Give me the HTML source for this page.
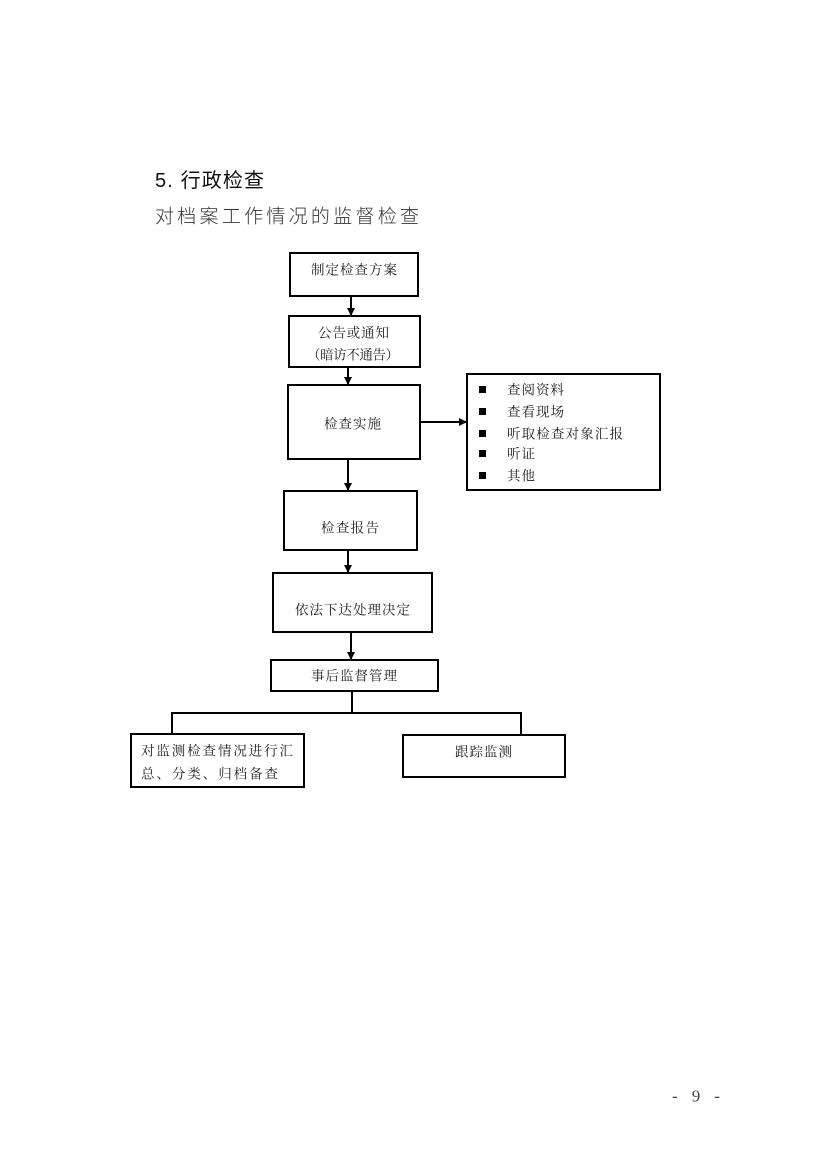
<!DOCTYPE html>
<html>
<head>
<meta charset="utf-8">
<style>
html,body{margin:0;padding:0;background:#fff;}
body{width:827px;height:1169px;overflow:hidden;}
svg{display:block;}
.s{font-family:"Liberation Serif","Noto Serif CJK SC",serif;font-size:13.5px;fill:#1a1a1a;}
</style>
</head>
<body>
<svg width="827" height="1169" viewBox="0 0 827 1169" xmlns="http://www.w3.org/2000/svg">
<defs>
<marker id="ah" markerWidth="8" markerHeight="8" refX="7" refY="4" orient="auto" markerUnits="userSpaceOnUse">
<path d="M0,0 L8,4 L0,8 z" fill="#000"/>
</marker>
</defs>

<!-- Title -->
<text x="155" y="181" dominant-baseline="central" style="font-family:'Liberation Sans','Noto Sans CJK SC',sans-serif" font-size="20" fill="#111" textLength="109" lengthAdjust="spacing">5. 行政检查</text>
<text x="155" y="217" dominant-baseline="central" style="font-family:'Liberation Sans','Noto Sans CJK SC',sans-serif;font-weight:300" font-size="19" fill="#333" textLength="264" lengthAdjust="spacing">对档案工作情况的监督检查</text>

<g fill="none" stroke="#000" stroke-width="2">
<rect x="290" y="253" width="128" height="43"/>
<rect x="289" y="316" width="131" height="51"/>
<rect x="288" y="385" width="132" height="74"/>
<rect x="467" y="374" width="193" height="116"/>
<rect x="284" y="491" width="133" height="59"/>
<rect x="273" y="573" width="159" height="59"/>
<rect x="271" y="660" width="167" height="31"/>
<rect x="131" y="734" width="173" height="53"/>
<rect x="403" y="735" width="162" height="42"/>
</g>

<!-- connectors -->
<g stroke="#000" stroke-width="2" fill="none">
<line x1="351" y1="297" x2="351" y2="315" marker-end="url(#ah)"/>
<line x1="348" y1="368" x2="348" y2="384" marker-end="url(#ah)"/>
<line x1="348" y1="460" x2="348" y2="490" marker-end="url(#ah)"/>
<line x1="348" y1="551" x2="348" y2="572" marker-end="url(#ah)"/>
<line x1="351" y1="633" x2="351" y2="659" marker-end="url(#ah)"/>
<line x1="421" y1="422" x2="466" y2="422" marker-end="url(#ah)"/>
<line x1="352" y1="692" x2="352" y2="713"/>
<polyline points="172,734 172,713 521,713 521,735"/>
</g>

<!-- box texts -->
<g>
<text class="s" x="311" y="270" dominant-baseline="central" textLength="86" lengthAdjust="spacing">制定检查方案</text>
<text class="s" x="318" y="333" dominant-baseline="central" textLength="71" lengthAdjust="spacing">公告或通知</text>
<text class="s" x="307" y="355" dominant-baseline="central" textLength="92" lengthAdjust="spacing">（暗访不通告）</text>
<text class="s" x="324" y="424" dominant-baseline="central" textLength="57" lengthAdjust="spacing">检查实施</text>
<text class="s" x="321" y="528" dominant-baseline="central" textLength="58" lengthAdjust="spacing">检查报告</text>
<text class="s" x="295" y="610" dominant-baseline="central" textLength="115" lengthAdjust="spacing">依法下达处理决定</text>
<text class="s" x="311" y="676" dominant-baseline="central" textLength="86" lengthAdjust="spacing">事后监督管理</text>
<text class="s" x="141" y="751" dominant-baseline="central" textLength="152" lengthAdjust="spacing">对监测检查情况进行汇</text>
<text class="s" x="141" y="774" dominant-baseline="central" textLength="137" lengthAdjust="spacing">总、分类、归档备查</text>
<text class="s" x="455" y="752" dominant-baseline="central" textLength="57" lengthAdjust="spacing">跟踪监测</text>

<text class="s" x="507" y="390" dominant-baseline="central" textLength="57" lengthAdjust="spacing">查阅资料</text>
<text class="s" x="507" y="412" dominant-baseline="central" textLength="57" lengthAdjust="spacing">查看现场</text>
<text class="s" x="507" y="434" dominant-baseline="central" textLength="116" lengthAdjust="spacing">听取检查对象汇报</text>
<text class="s" x="507" y="454" dominant-baseline="central" textLength="28" lengthAdjust="spacing">听证</text>
<text class="s" x="507" y="476" dominant-baseline="central" textLength="28" lengthAdjust="spacing">其他</text>
</g>

<!-- bullets -->
<g fill="#000">
<rect x="479" y="386" width="7" height="7"/>
<rect x="479" y="408" width="7" height="7"/>
<rect x="479" y="430" width="7" height="7"/>
<rect x="479" y="450" width="7" height="7"/>
<rect x="479" y="472" width="7" height="7"/>
</g>

<!-- page number -->
<text x="672" y="1096" dominant-baseline="central" style="font-family:'Liberation Serif','Noto Serif CJK SC',serif" font-size="17" fill="#444" textLength="48" lengthAdjust="spacing">- 9 -</text>
</svg>
</body>
</html>
